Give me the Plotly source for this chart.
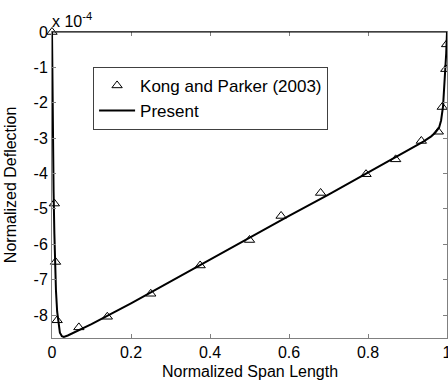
import plotly.graph_objects as go

# Kong and Parker (2003) reference points (deflection in units of 1e-4)
kp_x = [0.0, 0.006, 0.009, 0.013, 0.025, 0.068, 0.14, 0.25, 0.375, 0.5, 0.58,
        0.68, 0.795, 0.87, 0.935, 0.978, 0.988, 0.997, 0.999]
kp_y = [0.0, -4.85, -6.5, -8.15, -8.68, -8.35, -8.05, -7.4, -6.6, -5.88, -5.2,
        -4.55, -4.02, -3.6, -3.08, -2.82, -2.12, -1.05, -0.35]

# Present solution (deflection in units of 1e-4)
pr_x = [0.0, 0.001, 0.002, 0.004, 0.006, 0.008, 0.010, 0.013, 0.016, 0.02, 0.025, 0.03,
        0.04, 0.06, 0.1, 0.2, 0.3, 0.4, 0.5, 0.6, 0.7, 0.8, 0.9, 0.94, 0.96,
        0.97, 0.98, 0.985, 0.99, 0.995, 0.998, 1.0]
pr_y = [0.0, -1.5, -2.8, -4.5, -5.7, -6.6, -7.3, -7.9, -8.25, -8.5, -8.6, -8.62,
        -8.58, -8.48, -8.26, -7.67, -7.05, -6.43, -5.82, -5.2, -4.6, -3.98,
        -3.37, -3.1, -2.95, -2.85, -2.7, -2.5, -2.1, -1.3, -0.6, 0.0]

x_ticks = [0, 0.2, 0.4, 0.6, 0.8, 1]
x_ticklabels = ["0", "0.2", "0.4", "0.6", "0.8", "1"]
y_ticks = [0, -1, -2, -3, -4, -5, -6, -7, -8]
y_ticklabels = ["0", "-1", "-2", "-3", "-4", "-5", "-6", "-7", "-8"]

FONT = "Liberation Sans, Arial, sans-serif"
AXC = "#808080"

fig = go.Figure()
fig.add_trace(go.Scatter(
    x=pr_x, y=pr_y, mode="lines", name="Present",
    line=dict(color="black", width=2), cliponaxis=False,
))
fig.add_trace(go.Scatter(
    x=kp_x, y=kp_y, mode="markers", name="Kong and Parker (2003)",
    marker=dict(symbol="triangle-up-open", size=9, color="black",
                line=dict(color="black", width=1)),
    cliponaxis=False,
))

axis_common = dict(
    showgrid=False, zeroline=False, showline=True, linecolor=AXC, linewidth=1,
    mirror="ticks", ticks="inside", ticklen=4, tickcolor=AXC,
    tickfont=dict(family=FONT, size=16, color="black"), automargin=False,
    ticklabeloverflow="allow",
)

fig.update_layout(
    width=448, height=386,
    margin=dict(l=52, r=1, t=32, b=48, autoexpand=False),
    paper_bgcolor="white", plot_bgcolor="white",
    font=dict(family=FONT, size=16, color="black"),
    showlegend=True,
    legend=dict(
        x=0.104, y=0.886, xanchor="left", yanchor="top",
        bgcolor="white", bordercolor="#404040", borderwidth=1,
        font=dict(family=FONT, size=17, color="black"),
        traceorder="reversed", tracegroupgap=0, itemwidth=36,
    ),
    xaxis=dict(range=[0, 1], tickvals=x_ticks, ticktext=x_ticklabels,
               **axis_common),
    yaxis=dict(range=[-8.65, 0], tickvals=y_ticks, ticktext=y_ticklabels,
               **axis_common),
)

# black top border (as in the reference)
fig.add_shape(type="line", xref="paper", yref="paper", x0=0, x1=1, y0=1, y1=1,
              line=dict(color="black", width=1))

fig.add_annotation(
    text="Normalized Span Length", xref="paper", yref="paper",
    x=0.5, y=-0.111, xanchor="center", yanchor="middle", showarrow=False,
    font=dict(family=FONT, size=16, color="black"),
)
fig.add_annotation(
    text="Normalized Deflection", xref="paper", yref="paper",
    x=-0.106, y=0.5, xanchor="center", yanchor="middle", showarrow=False,
    textangle=-90, font=dict(family=FONT, size=16, color="black"),
)
fig.add_annotation(
    text="x 10<sup>-4</sup>", xref="paper", yref="paper", x=0.0, y=1.0,
    xanchor="left", yanchor="bottom", showarrow=False, xshift=-2, yshift=0,
    font=dict(family=FONT, size=16, color="black"),
)

fig.write_html(
    "out.html",
    config={"displayModeBar": False},
    post_script="document.body.style.margin='0';document.body.style.overflow='hidden';",
)
